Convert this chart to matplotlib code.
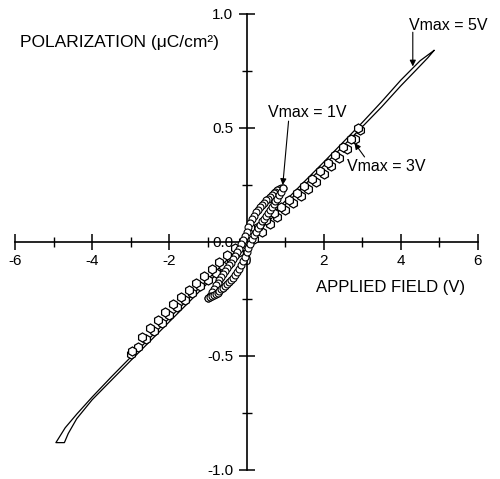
import matplotlib
matplotlib.use("Agg")
import matplotlib.pyplot as plt
from matplotlib.ticker import FixedLocator

plt.rcParams['font.family'] = ['Liberation Sans', 'DejaVu Sans']

# Vmax = 5V loop, drawn as a plain thin line (upper branch then lower branch)
v5_up = [4.86, 4.5, 4.0, 3.5, 3.0, 2.5, 2.0, 1.5, 1.0, 0.5, 0.0, -0.5, -1.0,
         -1.5, -2.0, -2.5, -3.0, -3.5, -4.0, -4.4, -4.7, -4.94]
p5_up = [0.84, 0.795, 0.71, 0.615, 0.524, 0.437, 0.35, 0.265, 0.179, 0.094,
         0.008, -0.078, -0.163, -0.249, -0.334, -0.42, -0.505, -0.591, -0.68,
         -0.755, -0.815, -0.88]
v5_lo = [-4.94, -4.72, -4.62, -4.4, -4.0, -3.5, -3.0, -2.5, -2.0, -1.5, -1.0,
         -0.5, 0.0, 0.5, 1.0, 1.5, 2.0, 2.5, 3.0, 3.5, 4.0, 4.4, 4.7, 4.86]
p5_lo = [-0.88, -0.88, -0.84, -0.775, -0.692, -0.606, -0.52, -0.435, -0.35,
         -0.265, -0.179, -0.094, -0.008, 0.078, 0.163, 0.249, 0.334, 0.42,
         0.505, 0.592, 0.685, 0.755, 0.808, 0.84]

# Vmax = 3V loop (hexagon markers)
v3_lo = [-3.0, -2.8, -2.6, -2.4, -2.2, -2.0, -1.8, -1.6, -1.4, -1.2, -1.0,
         -0.8, -0.6, -0.4, -0.2, 0.0, 0.2, 0.4, 0.6, 0.8, 1.0, 1.2, 1.4, 1.6,
         1.8, 2.0, 2.2, 2.4, 2.6, 2.8, 2.95]
p3_lo = [-0.49, -0.46, -0.425, -0.39, -0.355, -0.32, -0.285, -0.255, -0.225,
         -0.195, -0.165, -0.135, -0.105, -0.075, -0.045, -0.015, 0.015, 0.045,
         0.078, 0.108, 0.14, 0.17, 0.2, 0.232, 0.265, 0.298, 0.333, 0.37, 0.41,
         0.45, 0.49]
v3_up = [2.9, 2.7, 2.5, 2.3, 2.1, 1.9, 1.7, 1.5, 1.3, 1.1, 0.9, 0.7, 0.5, 0.3,
         0.1, -0.1, -0.3, -0.5, -0.7, -0.9, -1.1, -1.3, -1.5, -1.7, -1.9, -2.1,
         -2.3, -2.5, -2.7, -2.96]
p3_up = [0.5, 0.452, 0.418, 0.382, 0.348, 0.312, 0.278, 0.246, 0.215, 0.185,
         0.155, 0.125, 0.095, 0.065, 0.035, 0.005, -0.025, -0.056, -0.087,
         -0.117, -0.147, -0.178, -0.21, -0.242, -0.274, -0.307, -0.342, -0.378,
         -0.415, -0.48]

# Vmax = 1V loop (circle markers)
v1_up = [0.95, 0.9, 0.85, 0.8, 0.75, 0.7, 0.65, 0.6, 0.55, 0.5, 0.45, 0.4,
         0.35, 0.3, 0.25, 0.2, 0.15, 0.1, 0.05, 0.0, -0.05, -0.1, -0.15, -0.2,
         -0.25, -0.3, -0.35, -0.4, -0.45, -0.5, -0.55, -0.6, -0.65, -0.7,
         -0.75, -0.8, -0.85, -0.9, -0.95, -1.0]
p1_up = [0.237, 0.235, 0.232, 0.226, 0.22, 0.213, 0.206, 0.198, 0.19, 0.182,
         0.173, 0.164, 0.154, 0.142, 0.13, 0.115, 0.1, 0.083, 0.064, 0.045,
         0.027, 0.008, -0.011, -0.03, -0.045, -0.06, -0.075, -0.09, -0.103,
         -0.115, -0.128, -0.14, -0.152, -0.165, -0.178, -0.19, -0.204, -0.22,
         -0.235, -0.245]
v1_lo = [-1.0, -0.95, -0.9, -0.85, -0.8, -0.75, -0.7, -0.65, -0.6, -0.55,
         -0.5, -0.45, -0.4, -0.35, -0.3, -0.25, -0.2, -0.15, -0.1, -0.05, 0.0,
         0.05, 0.1, 0.15, 0.2, 0.25, 0.3, 0.35, 0.4, 0.45, 0.5, 0.55, 0.6,
         0.65, 0.7, 0.75, 0.8, 0.85, 0.9, 0.95]
p1_lo = [-0.245, -0.243, -0.238, -0.233, -0.228, -0.222, -0.215, -0.208,
         -0.2, -0.193, -0.185, -0.177, -0.168, -0.157, -0.145, -0.132, -0.118,
         -0.102, -0.085, -0.065, -0.045, -0.027, -0.008, 0.011, 0.03, 0.045,
         0.06, 0.075, 0.09, 0.103, 0.115, 0.128, 0.14, 0.152, 0.165, 0.178,
         0.19, 0.204, 0.22, 0.237]

x_major = [-6, -4, -2, 0, 2, 4, 6]
x_minor = [-5, -3, -1, 1, 3, 5]
x_labels = ['-6', '-4', '-2', '0', '2', '4', '6']
y_major = [-1.0, -0.5, 0.0, 0.5, 1.0]
y_minor = [-0.75, -0.25, 0.25, 0.75]
y_labels = ['-1.0', '-0.5', '0.0', '0.5', '1.0']

fig = plt.figure(figsize=(5, 4.79), dpi=100)
ax = fig.add_axes([0.03, 0.0188, 0.926, 0.952])
ax.set_xlim(-6, 6)
ax.set_ylim(-1, 1)

# axes crossing at the origin
for side in ['top', 'right']:
    ax.spines[side].set_visible(False)
for side in ['left', 'bottom']:
    ax.spines[side].set_position(('data', 0))
    ax.spines[side].set_linewidth(1.2)

ax.xaxis.set_major_locator(FixedLocator(x_major))
ax.xaxis.set_minor_locator(FixedLocator(x_minor))
ax.yaxis.set_major_locator(FixedLocator(y_major))
ax.yaxis.set_minor_locator(FixedLocator(y_minor))
ax.set_xticklabels(x_labels)
ax.set_yticklabels(y_labels)
ax.tick_params(which='major', direction='inout', length=11, width=1.1,
               labelsize=11)
ax.tick_params(which='minor', direction='inout', length=7, width=1.0)
ax.tick_params(axis='x', which='major', pad=3)
ax.tick_params(axis='y', which='major', pad=4)

# loops
ax.plot(v5_up + v5_lo, p5_up + p5_lo, color='black', lw=0.9, zorder=3)
ax.plot(v3_lo + v3_up, p3_lo + p3_up, linestyle='none', marker='h',
        markersize=6.5, mfc='white', mec='black', mew=0.9, zorder=4)
ax.plot(v1_up + v1_lo, p1_up + p1_lo, linestyle='none', marker='o',
        markersize=5, mfc='white', mec='black', mew=0.8, zorder=5)

# axis titles
ax.text(-5.87, 0.873, 'POLARIZATION (μC/cm²)', fontsize=12.5, va='center',
        ha='left')
ax.text(1.79, -0.2, 'APPLIED FIELD (V)', fontsize=12, va='center', ha='left')

# Vmax labels with arrows
arrow = dict(arrowstyle='-|>', color='black', lw=0.8, mutation_scale=9,
             shrinkA=0, shrinkB=0)
ax.text(4.21, 0.95, 'Vmax = 5V', fontsize=11.5, va='center', ha='left')
ax.annotate('', xy=(4.31, 0.77), xytext=(4.31, 0.92), arrowprops=arrow)
ax.text(0.57, 0.566, 'Vmax = 1V', fontsize=11.5, va='center', ha='left')
ax.annotate('', xy=(0.94, 0.25), xytext=(1.09, 0.53), arrowprops=arrow)
ax.text(2.6, 0.33, 'Vmax = 3V', fontsize=11.5, va='center', ha='left')
ax.annotate('', xy=(2.8, 0.434), xytext=(3.06, 0.373), arrowprops=arrow)

fig.savefig('out.png', dpi=100)
